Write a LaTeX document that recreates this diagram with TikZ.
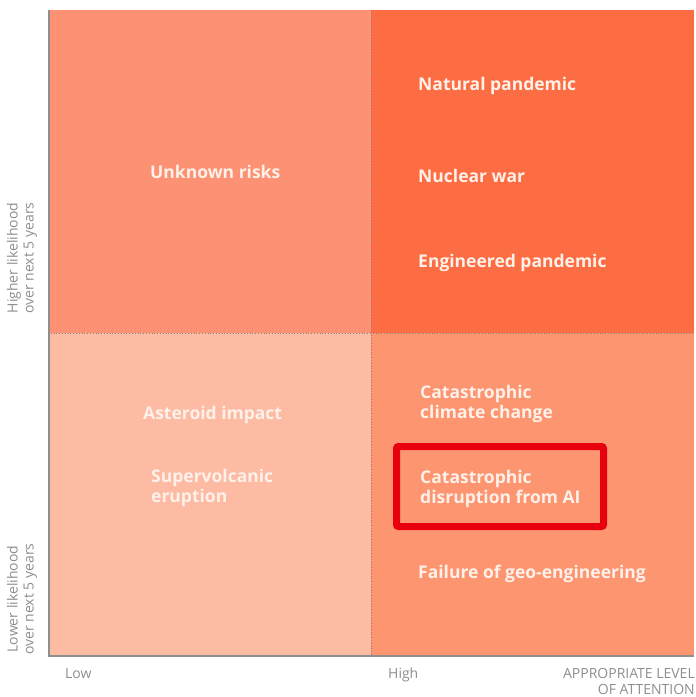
\documentclass[tikz,border=0pt]{standalone}
\usepackage{fontspec}
\setmainfont{Open Sans}
\usepackage{xcolor}
\definecolor{quadTL}{HTML}{FC9273}
\definecolor{quadTR}{HTML}{FD6D43}
\definecolor{quadBL}{HTML}{FDBBA4}
\definecolor{quadBR}{HTML}{FD9571}
\definecolor{riskwhite}{HTML}{FDF1E9}
\definecolor{axisgray}{HTML}{8E8E8E}
\definecolor{boxred}{HTML}{E8000F}

\begin{document}
\begin{tikzpicture}[x=1pt,y=-1pt,
  risk/.style={anchor=base west,align=left,inner sep=0pt,text=riskwhite,
    font=\bfseries\fontsize{17.5}{20}\selectfont},
  axislabel/.style={inner sep=0pt,text=axisgray,font=\fontsize{14}{16}\selectfont}]
\useasboundingbox (0,0) rectangle (696,697);
% quadrants
\fill[quadTL] (48,10) rectangle (371,333);
\fill[quadTR] (371,10) rectangle (694,333);
\fill[quadBL] (48,333) rectangle (371,656);
\fill[quadBR] (371,333) rectangle (694,656);
\draw[black!50,dotted,thick] (371,10) -- (371,656);
\draw[black!50,dotted,thick] (48,333) -- (694,333);
\draw[axisgray,line width=2pt] (49,10) -- (49,656) -- (694,656);
% risks (base = last line)
\node[risk] (unknown) at (150,178) {Unknown risks};
\node[risk] (natural) at (418,90) {Natural pandemic};
\node[risk] (nuclear) at (418,182) {Nuclear war};
\node[risk] (engineered) at (418,267) {Engineered pandemic};
\node[risk] (asteroid) at (143,419) {Asteroid impact};
\node[risk] (volcano) at (151,502) {Supervolcanic\\eruption};
\node[risk] (climate) at (420,418) {Catastrophic\\climate change};
\node[risk] (ai) at (420,503) {Catastrophic\\disruption from AI};
\node[risk] (geo) at (418,578) {Failure of geo-engineering};
\draw[boxred,line width=7pt,rounded corners=2pt] (396.5,446.5) rectangle (603.5,526.5);
% axes
\node[axislabel,rotate=90,align=center] (higher) at (22,258) {Higher likelihood\\over next 5 years};
\node[axislabel,rotate=90,align=center] (lower) at (22,599) {Lower likelihood\\over next 5 years};
\node[axislabel,anchor=base west] (low) at (65,678) {Low};
\node[axislabel,anchor=base west] (high) at (388,678) {High};
\node[axislabel,anchor=base east,align=right] (attention) at (695,694) {APPROPRIATE LEVEL\\OF ATTENTION};
\end{tikzpicture}
\end{document}
